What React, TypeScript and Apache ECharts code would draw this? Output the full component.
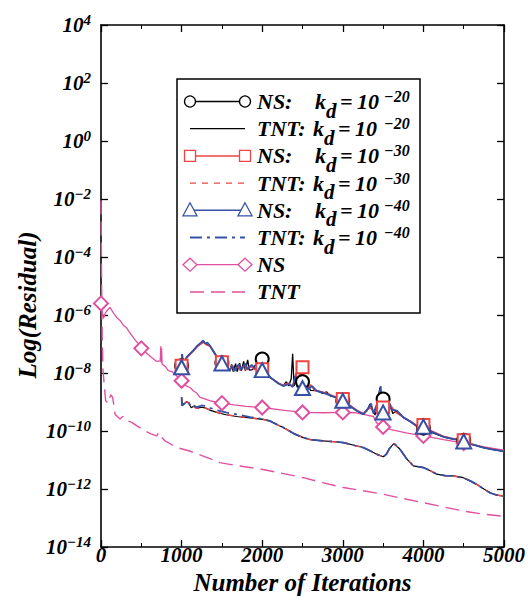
import React, { useEffect, useRef } from "react";
import * as echarts from "echarts";

// ---- data: [iteration, log10(residual)] ----
const nsPink: number[][] = [
  [0, -5.6], [30, -6.12], [60, -5.9], [110, -5.74], [160, -5.95], [200, -6.1], [240, -6.2], [277, -6.35],
  [320, -6.45], [350, -6.58], [420, -6.85], [460, -6.98], [500, -7.15], [560, -7.3], [620, -7.45],
  [690, -7.6], [735, -7.58], [742, -7.08], [748, -7.65], [752, -7.15], [758, -7.7], [800, -7.78],
  [835, -7.92], [880, -7.95], [930, -8.08], [1000, -8.27], [1060, -8.45], [1104, -8.5], [1150, -8.62],
  [1190, -8.7], [1228, -8.84], [1280, -8.88], [1350, -8.95], [1420, -9.0], [1500, -9.04], [1650, -9.1],
  [1800, -9.15], [2000, -9.19], [2250, -9.28], [2500, -9.36], [2750, -9.37], [3000, -9.36], [3150, -9.37],
  [3300, -9.45], [3380, -9.5], [3420, -9.72], [3500, -9.86], [3600, -9.95], [3800, -10.07], [4000, -10.17],
  [4250, -10.3], [4500, -10.42], [4750, -10.55], [5000, -10.66],
];

const tntPink: number[][] = [
  [0, -2.05], [8, -5.0], [15, -6.8], [25, -7.9], [40, -8.4], [58, -8.96], [90, -9.05], [120, -8.75],
  [145, -8.84], [174, -9.42], [236, -9.59], [270, -9.5], [300, -9.62], [381, -9.7], [460, -9.85],
  [546, -10.0], [620, -10.1], [690, -10.17], [720, -10.05], [745, -10.2], [800, -10.35], [939, -10.57],
  [1100, -10.69], [1300, -10.9], [1475, -11.09], [1700, -11.2], [1995, -11.32], [2250, -11.46],
  [2510, -11.61], [2750, -11.78], [3006, -11.95], [3250, -12.06], [3502, -12.18], [3750, -12.33],
  [3998, -12.47], [4250, -12.62], [4495, -12.76], [4750, -12.87], [5000, -12.94],
];

const ns20: number[][] = [
  [1000, -7.75], [1010, -7.35], [1020, -7.72], [1063, -7.46], [1145, -7.23], [1200, -7.05], [1270, -6.94],
  [1300, -7.0], [1352, -7.06], [1414, -7.34], [1476, -7.63], [1500, -7.65], [1517, -7.75], [1560, -7.85],
  [1600, -7.92], [1620, -7.7], [1640, -7.95], [1670, -7.68], [1690, -7.95], [1720, -7.66], [1740, -7.93],
  [1770, -7.6], [1790, -7.92], [1820, -7.55], [1840, -7.9], [1880, -7.88], [1920, -7.7], [1960, -7.92],
  [2000, -7.52], [2030, -7.95], [2097, -8.15], [2150, -8.25], [2200, -8.35], [2262, -8.44], [2300, -8.3],
  [2330, -8.45], [2360, -8.2], [2378, -7.34], [2395, -8.45], [2420, -8.2], [2440, -8.5], [2470, -8.1],
  [2500, -8.3], [2520, -8.55], [2560, -8.35], [2600, -8.6], [2676, -8.61], [2750, -8.7], [2800, -8.65],
  [2850, -8.8], [2924, -8.84], [3000, -8.96], [3080, -9.1], [3172, -9.3], [3255, -9.42], [3300, -9.3],
  [3337, -9.07], [3370, -9.3], [3400, -9.45], [3430, -9.0], [3461, -8.5], [3480, -9.4], [3500, -8.9],
  [3530, -9.35], [3560, -9.0], [3586, -9.07], [3620, -9.4], [3669, -9.3], [3751, -9.53], [3850, -9.7],
  [3937, -9.88], [4000, -9.9], [4100, -10.05], [4247, -10.2], [4350, -10.27], [4500, -10.32],
  [4600, -10.45], [4743, -10.57], [4850, -10.63], [5000, -10.7],
];

const ns30: number[][] = [
  [1000, -7.75], [1008, -7.5], [1020, -7.78], [1063, -7.48], [1145, -7.25], [1200, -7.08], [1250, -6.98],
  [1275, -6.9], [1300, -7.02], [1352, -7.08], [1414, -7.36], [1476, -7.6], [1500, -7.63], [1530, -7.78],
  [1600, -7.9], [1625, -7.72], [1650, -7.92], [1700, -7.75], [1730, -7.92], [1780, -7.7], [1800, -7.9],
  [1850, -7.75], [1900, -7.88], [1950, -7.8], [2000, -7.87], [2050, -8.0], [2100, -8.15], [2200, -8.35],
  [2262, -8.42], [2320, -8.35], [2380, -8.45], [2420, -8.0], [2445, -8.45], [2470, -7.9], [2485, -8.4],
  [2500, -7.8], [2515, -8.5], [2540, -8.1], [2560, -8.55], [2600, -8.4], [2650, -8.6], [2700, -8.62],
  [2800, -8.7], [2924, -8.84], [3000, -8.9], [3080, -9.1], [3172, -9.28], [3255, -9.4], [3337, -9.2],
  [3400, -9.35], [3450, -8.9], [3480, -9.3], [3500, -9.19], [3540, -9.3], [3590, -9.1], [3650, -9.35],
  [3750, -9.52], [3850, -9.68], [3937, -9.85], [4000, -9.79], [4100, -10.0], [4247, -10.18],
  [4350, -10.25], [4500, -10.32], [4600, -10.45], [4743, -10.56], [4850, -10.62], [5000, -10.7],
];

const ns40: number[][] = [
  [1000, -7.8], [1005, -7.35], [1012, -7.85], [1063, -7.45], [1145, -7.22], [1200, -7.05], [1240, -6.95],
  [1265, -6.88], [1290, -6.98], [1320, -6.95], [1352, -7.06], [1414, -7.33], [1476, -7.62], [1500, -7.67],
  [1530, -7.8], [1600, -7.9], [1630, -7.75], [1660, -7.93], [1710, -7.7], [1740, -7.9], [1790, -7.68],
  [1820, -7.88], [1870, -7.72], [1920, -7.86], [1960, -7.8], [2000, -7.9], [2060, -8.05], [2097, -8.15],
  [2200, -8.36], [2262, -8.45], [2330, -8.38], [2380, -8.48], [2410, -8.1], [2440, -8.5], [2475, -8.2],
  [2500, -8.52], [2530, -8.3], [2560, -8.58], [2620, -8.45], [2676, -8.62], [2750, -8.68], [2850, -8.78],
  [2924, -8.85], [3000, -8.96], [3080, -9.12], [3172, -9.3], [3255, -9.42], [3320, -9.2], [3350, -9.05],
  [3380, -9.4], [3440, -8.95], [3470, -8.45], [3490, -9.3], [3500, -9.36], [3530, -9.1], [3570, -9.0],
  [3600, -9.25], [3669, -9.3], [3751, -9.53], [3850, -9.7], [3937, -9.87], [4000, -9.85], [4100, -10.02],
  [4247, -10.2], [4350, -10.26], [4500, -10.36], [4600, -10.46], [4743, -10.57], [4850, -10.63], [5000, -10.7],
];

const tnt20: number[][] = [
  [1000, -8.84], [1005, -9.13], [1040, -9.05], [1063, -8.98], [1090, -9.05], [1120, -9.2], [1150, -9.15],
  [1187, -9.22], [1250, -9.18], [1290, -9.2], [1350, -9.28], [1435, -9.36], [1550, -9.44], [1683, -9.5],
  [1850, -9.55], [2014, -9.6], [2100, -9.66], [2200, -9.8], [2262, -9.88], [2400, -10.1], [2510, -10.23],
  [2600, -10.3], [2758, -10.34], [2900, -10.37], [3006, -10.4], [3150, -10.5], [3254, -10.57], [3350, -10.7],
  [3420, -10.8], [3503, -10.89], [3540, -10.8], [3580, -10.6], [3635, -10.43], [3680, -10.55], [3710, -10.63],
  [3790, -10.95], [3875, -11.2], [3950, -11.24], [3999, -11.26], [4080, -11.36], [4165, -11.49],
  [4270, -11.54], [4371, -11.55], [4495, -11.61], [4580, -11.72], [4661, -11.84], [4750, -12.0],
  [4826, -12.13], [4900, -12.2], [5000, -12.25],
];

const tnt30: number[][] = [
  [1000, -8.84], [1005, -9.12], [1040, -9.05], [1063, -8.99], [1090, -9.05], [1120, -9.19], [1150, -9.15],
  [1187, -9.22], [1250, -9.17], [1290, -9.2], [1350, -9.27], [1435, -9.35], [1550, -9.43], [1683, -9.49],
  [1850, -9.55], [2014, -9.6], [2100, -9.66], [2200, -9.8], [2262, -9.88], [2400, -10.1], [2510, -10.23],
  [2600, -10.3], [2758, -10.34], [2900, -10.37], [3006, -10.4], [3150, -10.5], [3254, -10.57], [3350, -10.7],
  [3420, -10.8], [3503, -10.89], [3540, -10.8], [3580, -10.6], [3635, -10.43], [3680, -10.55], [3710, -10.63],
  [3790, -10.95], [3875, -11.2], [3950, -11.24], [3999, -11.26], [4080, -11.36], [4165, -11.49],
  [4270, -11.54], [4371, -11.55], [4495, -11.61], [4580, -11.72], [4661, -11.84], [4750, -12.0],
  [4826, -12.13], [4900, -12.2], [5000, -12.25],
];

const tnt40: number[][] = [
  [1000, -8.84], [1005, -9.12], [1040, -9.03], [1063, -8.97], [1090, -9.03], [1120, -9.17], [1150, -9.12],
  [1187, -9.18], [1250, -9.12], [1290, -9.14], [1350, -9.2], [1435, -9.28], [1550, -9.36], [1683, -9.43],
  [1850, -9.52], [2014, -9.59], [2100, -9.66], [2200, -9.8], [2262, -9.88], [2400, -10.1], [2510, -10.23],
  [2600, -10.3], [2758, -10.34], [2900, -10.37], [3006, -10.4], [3150, -10.5], [3254, -10.57], [3350, -10.7],
  [3420, -10.8], [3503, -10.89], [3540, -10.8], [3580, -10.6], [3635, -10.43], [3680, -10.55], [3710, -10.63],
  [3790, -10.95], [3875, -11.2], [3950, -11.24], [3999, -11.26], [4080, -11.36], [4165, -11.49],
  [4270, -11.54], [4371, -11.55], [4495, -11.61], [4580, -11.72], [4661, -11.84], [4750, -12.0],
  [4826, -12.13], [4900, -12.2], [5000, -12.25],
];

const xTicks = [0, 1000, 2000, 3000, 4000, 5000];
const yExponents = [-14, -12, -10, -8, -6, -4, -2, 0, 2, 4];

const legendRows = [
  { label: "NS:", exp: "−20", color: "#000000", marker: "circle", dash: null as number[] | null, width: 1.3, kd: true, tnt: false },
  { label: "TNT:", exp: "−20", color: "#000000", marker: "", dash: null, width: 1.2, kd: true, tnt: true },
  { label: "NS:", exp: "−30", color: "#ee4444", marker: "rect", dash: null, width: 1.5, kd: true, tnt: false },
  { label: "TNT:", exp: "−30", color: "#ee4444", marker: "", dash: [6, 6], width: 1.3, kd: true, tnt: true },
  { label: "NS:", exp: "−40", color: "#3550a5", marker: "triangle", dash: null, width: 1.5, kd: true, tnt: false },
  { label: "TNT:", exp: "−40", color: "#3550a5", marker: "", dash: [12, 5, 3, 5], width: 1.8, kd: true, tnt: true },
  { label: "NS", exp: "", color: "#e0509f", marker: "diamond", dash: null, width: 1.3, kd: false, tnt: false },
  { label: "TNT", exp: "", color: "#e0509f", marker: "", dash: [14, 7], width: 1.5, kd: false, tnt: true },
];

const FONT = '"Liberation Serif", "Times New Roman", serif';
const RED = "#ee4444";
const BLUE = "#3550a5";
const PINK = "#e0509f";

function withMarkers(arr: number[][]) {
  return arr.map(([x, y]) =>
    x % 500 === 0 && x < 5000 ? { value: [x, y] } : { value: [x, y], symbol: "none" }
  );
}

function markerShape(kind: string, cx: number, cy: number, color: string) {
  const style = { fill: "#fff", stroke: color, lineWidth: 1.3 };
  if (kind === "circle") return { type: "circle", shape: { cx, cy, r: 5.5 }, style, z: 101 };
  if (kind === "rect") return { type: "rect", shape: { x: cx - 5.5, y: cy - 5.5, width: 11, height: 11 }, style, z: 101 };
  if (kind === "triangle")
    return { type: "polygon", shape: { points: [[cx, cy - 7.5], [cx - 7, cy + 5.5], [cx + 7, cy + 5.5]] }, style, z: 101 };
  return { type: "polygon", shape: { points: [[cx, cy - 6.5], [cx + 7, cy], [cx, cy + 6.5], [cx - 7, cy]] }, style, z: 101 };
}

function txt(text: string, x: number, y: number, size: number) {
  return {
    type: "text",
    x,
    y,
    z: 102,
    style: {
      text,
      x: 0,
      y: 0,
      fill: "#000",
      fontSize: size,
      fontFamily: FONT,
      fontWeight: "bold",
      fontStyle: "italic",
      align: "left",
      verticalAlign: "middle",
    },
  };
}

function buildLegend() {
  const els: any[] = [
    { type: "rect", shape: { x: 177, y: 79, width: 243, height: 234 }, style: { fill: "#fff", stroke: "#000", lineWidth: 1.5 }, z: 100 },
  ];
  legendRows.forEach((r, i) => {
    const y = 101.5 + i * 27.2;
    els.push({
      type: "line",
      shape: { x1: 190, y1: y, x2: 245, y2: y },
      style: { stroke: r.color, lineWidth: r.width, lineDash: r.dash || undefined },
      z: 101,
    });
    if (r.marker) {
      els.push(markerShape(r.marker, 190, y, r.color));
      els.push(markerShape(r.marker, 245, y, r.color));
    }
    els.push(txt(r.label, 257, y, 22));
    if (r.kd) {
      const o = r.tnt ? -2 : 0;
      els.push(txt("k", 315 + o, y, 22));
      els.push(txt("d", 326 + o, y + 9, 21));
      els.push(txt("=", 340 + o, y, 22));
      els.push(txt("10", 357 + o, y, 22));
      els.push(txt(r.exp, 384, y - 5, 16));
    }
  });
  return els;
}

export default function App() {
  const ref = useRef<HTMLDivElement>(null);
  useEffect(() => {
    if (!ref.current) return;
    const chart = echarts.init(ref.current, null, { renderer: "svg" });
    const labelFont = { fontFamily: FONT, fontWeight: "bold" as const, fontStyle: "italic" as const, color: "#000" };
    const axisLine = { show: true, onZero: false, lineStyle: { color: "#000", width: 1.6 } };
    const xBase = {
      type: "value" as const,
      min: 0,
      max: 5000,
      interval: 1000,
      axisLine,
      axisTick: { show: true, inside: true, length: 7, lineStyle: { color: "#000", width: 1.3 } },
      minorTick: { show: true, splitNumber: 2, length: 4, lineStyle: { color: "#000", width: 1 } },
      splitLine: { show: false },
    };
    const yBase = {
      type: "value" as const,
      min: -14,
      max: 4,
      interval: 2,
      axisLine,
      axisTick: { show: true, inside: true, length: 7, lineStyle: { color: "#000", width: 1.3 } },
      splitLine: { show: false },
    };
    const lineSeries = (name: string, data: any[], color: string, width: number, dash: any, extra: any = {}) => ({
      name,
      type: "line",
      data,
      xAxisIndex: 0,
      yAxisIndex: 0,
      symbol: "none",
      lineStyle: { color, width, type: dash || "solid" },
      itemStyle: { color, borderColor: color, borderWidth: 1.3 },
      emphasis: { disabled: true },
      ...extra,
    });
    chart.setOption({
      animation: false,
      backgroundColor: "#fff",
      grid: { left: 101, top: 25, width: 403, height: 522, containLabel: false },
      xAxis: [
        {
          ...xBase,
          position: "bottom",
          axisLabel: {
            ...labelFont,
            fontSize: 21,
            margin: -3,
            formatter: (v: number) => (xTicks.includes(v) ? String(v) : ""),
          },
          name: "Number of Iterations",
          nameLocation: "middle",
          nameGap: 9,
          nameTextStyle: { ...labelFont, fontSize: 25 },
        },
        { ...xBase, position: "top", axisLabel: { show: false } },
      ],
      yAxis: [
        {
          ...yBase,
          position: "left",
          axisLabel: {
            margin: 10,
            formatter: (v: number) => {
              if (!yExponents.includes(v)) return "";
              const e = v < 0 ? "−" + -v : String(v);
              return `{b|10}{s|${e}}`;
            },
            rich: {
              b: { ...labelFont, fontSize: 21, lineHeight: 26, verticalAlign: "middle" },
              s: { ...labelFont, fontSize: 15, lineHeight: 14, verticalAlign: "top" },
            },
          },
        },
        { ...yBase, position: "right", axisLabel: { show: false } },
      ],
      graphic: [
        {
          type: "text",
          x: 27,
          y: 305,
          rotation: Math.PI / 2,
          style: {
            text: "Log(Residual)",
            x: 0,
            y: 0,
            fill: "#000",
            fontSize: 25,
            fontFamily: FONT,
            fontWeight: "bold",
            fontStyle: "italic",
            align: "center",
            verticalAlign: "middle",
          },
        },
        ...buildLegend(),
      ],
      series: [
        lineSeries("TNT", tntPink, PINK, 1.4, [14, 7]),
        lineSeries("NS", withMarkers(nsPink), PINK, 1.3, null, { symbol: "emptyDiamond", symbolSize: [14, 14], showAllSymbol: true }),
        lineSeries("TNT kd=1e-20", tnt20, "#000", 1.2, null),
        lineSeries("TNT kd=1e-30", tnt30, RED, 1.5, [6, 6]),
        lineSeries("TNT kd=1e-40", tnt40, BLUE, 1.8, [12, 5, 3, 5]),
        lineSeries("NS kd=1e-20", withMarkers(ns20), "#000", 1.3, null, { symbol: "emptyCircle", symbolSize: 13, showAllSymbol: true }),
        lineSeries("NS kd=1e-30", withMarkers(ns30), RED, 1.5, null, { symbol: "emptyRect", symbolSize: 12, showAllSymbol: true }),
        lineSeries("NS kd=1e-40", withMarkers(ns40), BLUE, 1.8, null, { symbol: "emptyTriangle", symbolSize: [15, 14], showAllSymbol: true }),
      ],
    });
    return () => chart.dispose();
  }, []);
  return <div ref={ref} style={{ position: "fixed", left: 0, top: 0, width: 528, height: 606 }} />;
}
